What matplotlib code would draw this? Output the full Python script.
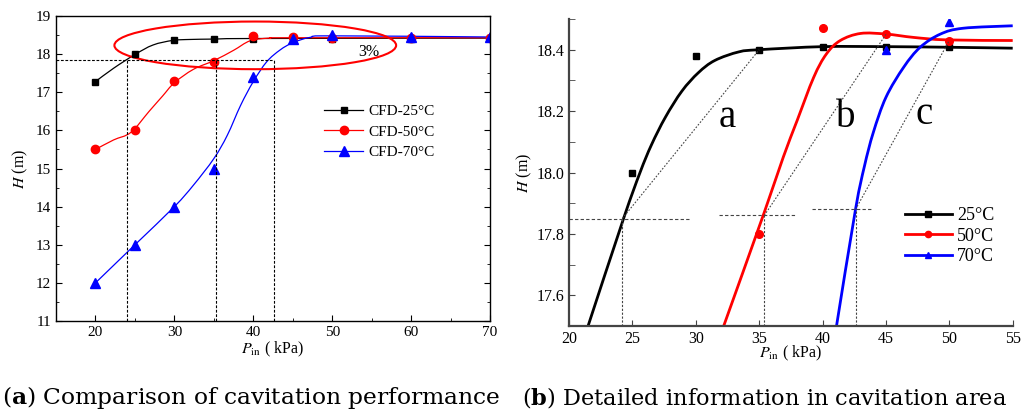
import numpy as np
import matplotlib
matplotlib.use('Agg')
import matplotlib.pyplot as plt
from matplotlib.lines import Line2D
from matplotlib.patches import Ellipse, PathPatch
from matplotlib.path import Path

# ===== DATI =====
# (a) punti CFD
p_a = [20, 25, 30, 35, 40, 45, 50, 60, 70]
h25_a = [17.28, 18.0, 18.38, 18.40, 18.41, 18.41, 18.41, 18.41, 18.42]
h50_a = [15.5, 16.0, 17.3, 17.8, 18.47, 18.45, 18.43, 18.43, 18.43]
h70_a = [12.0, 13.0, 14.0, 15.0, 17.4, 18.4, 18.49, 18.46, 18.44]

# (a) curve spline
c25_x = [20, 22.3, 25, 27.3, 29.8, 32, 35, 40, 70]
c25_y = [17.28, 17.63, 17.99, 18.24, 18.36, 18.385, 18.395, 18.41, 18.42]
c50_x = [20, 22.3, 24.5, 26.8, 28.5, 30, 32.4, 35, 37.5, 39.6, 42, 45, 70]
c50_y = [15.5, 15.75, 15.95, 16.5, 16.9, 17.25, 17.6, 17.83, 18.1, 18.35, 18.42, 18.43, 18.43]
c70_x = [20, 25, 30, 32.4, 35, 36.7, 38.4, 40, 41.7, 43.4, 45, 47.2, 50, 70]
c70_y = [12.0, 13.0, 14.0, 14.56, 15.26, 15.87, 16.66, 17.28, 17.8, 18.11, 18.3, 18.44, 18.48, 18.45]

# (b) punti
p25_b = [25, 30, 35, 40, 45, 50]
h25_b = [18.0, 18.38, 18.40, 18.41, 18.41, 18.41]
p50_b = [35, 40, 45, 50]
h50_b = [17.8, 18.47, 18.45, 18.43]
p70_b = [45, 50]
h70_b = [18.40, 18.49]

# (b) curve di fit
f25_x = [21.5, 24.3, 25.6, 26.5, 27.6, 28.9, 30.2, 31.5, 33.4, 35, 40, 45, 50, 55]
f25_y = [17.5, 17.85, 18.0, 18.09, 18.18, 18.265, 18.325, 18.365, 18.393, 18.40, 18.41, 18.41, 18.408, 18.405]
f50_x = [32.2, 35.4, 36.9, 38.0, 39.3, 40.3, 41.4, 43.0, 45.0, 47.2, 49.8, 55]
f50_y = [17.5, 17.87, 18.05, 18.17, 18.31, 18.386, 18.43, 18.453, 18.451, 18.44, 18.432, 18.43]
f70_x = [41.1, 42.6, 43.3, 44.0, 45.0, 46.4, 47.7, 49.3, 51.1, 55]
f70_y = [17.5, 17.88, 18.02, 18.13, 18.245, 18.343, 18.408, 18.451, 18.47, 18.478]

# punto critico (3%) per ogni temperatura
p_crit = [24.2, 35.4, 42.6]
h_crit = [17.85, 17.86, 17.88]
p_tan = [35, 45, 50]
h_tan = [18.40, 18.45, 18.43]
hline_b = [(20, 29.5), (31.8, 37.8), (39.2, 44.0)]

colors = ['black', 'red', 'blue']
markers = ['s', 'o', '^']
labels_a = ['CFD-25\u00b0C', 'CFD-50\u00b0C', 'CFD-70\u00b0C']
labels_b = ['25\u00b0C', '50\u00b0C', '70\u00b0C']


def smooth_path(xs, ys):
    """Path di Bezier (Catmull-Rom) che passa per i punti letti"""
    pts = np.column_stack([xs, ys]).astype(float)
    verts = [pts[0]]
    codes = [Path.MOVETO]
    n = len(pts)
    for i in range(n - 1):
        p0 = pts[i - 1] if i > 0 else pts[i]
        p1 = pts[i]
        p2 = pts[i + 1]
        p3 = pts[i + 2] if i + 2 < n else pts[i + 1]
        verts += [p1 + (p2 - p0) / 6, p2 - (p3 - p1) / 6, p2]
        codes += [Path.CURVE4] * 3
    return Path(verts, codes)


def draw_curve(ax, xs, ys, color, lw):
    ax.add_patch(PathPatch(smooth_path(xs, ys), fill=False, edgecolor=color, lw=lw,
                           capstyle='butt', joinstyle='round'))


plt.rcParams['font.family'] = ['Liberation Serif', 'DejaVu Serif']
plt.rcParams['mathtext.fontset'] = 'stix'

fig = plt.figure(figsize=(10.22, 4.18), dpi=100)
ax1 = fig.add_axes([0.0548, 0.232, 0.4247, 0.7297])
ax2 = fig.add_axes([0.5568, 0.2201, 0.4341, 0.7344])

# ===== (a) =====
curves_a = [(c25_x, c25_y), (c50_x, c50_y), (c70_x, c70_y)]
pts_a = [h25_a, h50_a, h70_a]
msz = [5, 6, 6.5]
for i in range(3):
    draw_curve(ax1, curves_a[i][0], curves_a[i][1], colors[i], 0.9)
    ax1.plot(p_a, pts_a[i], ls='none', marker=markers[i], color=colors[i], ms=msz[i])

# linee tratteggiate 3%
ax1.plot([15, 42.6], [17.85, 17.85], color='black', ls=(0, (2.5, 1.5)), lw=0.8)
for p in [24.0, 35.3, 42.6]:
    ax1.plot([p, p], [11, 17.85], color='black', ls=(0, (2.5, 1.5)), lw=0.8)

ax1.add_patch(Ellipse((40.25, 18.23), 35.7, 1.25, fill=False, edgecolor='red', lw=1.5))
ax1.text(54.7, 18.05, '3%', fontsize=11.5, ha='center', va='center')

ax1.set_xlim(15, 70)
ax1.set_ylim(11, 19)
ax1.set_xticks([20, 30, 40, 50, 60, 70])
ax1.set_xticks([25, 35, 45, 55, 65], minor=True)
ax1.set_yticks(range(11, 20))
ax1.set_yticks(np.arange(11.5, 19, 1), minor=True)
ax1.tick_params(which='both', direction='in', right=True, labelsize=11)
ax1.tick_params(which='major', length=4)
ax1.tick_params(which='minor', length=2.5)
for s in ax1.spines.values():
    s.set_linewidth(1.0)
ax1.set_xlabel(r'$P_{\rm in}$ ( kPa)', fontsize=11.5, labelpad=1)
ax1.set_ylabel(r'$H$ (m)', fontsize=11.5, labelpad=4)

handles_a = [Line2D([], [], color=colors[i], lw=0.9, marker=markers[i], ms=msz[i]) for i in range(3)]
ax1.legend(handles_a, labels_a, loc='upper left', bbox_to_anchor=(0.585, 0.755), frameon=False,
           fontsize=11, handlelength=2.6, labelspacing=0.45, handletextpad=0.3)

# ===== (b) =====
curves_b = [(f25_x, f25_y), (f50_x, f50_y), (f70_x, f70_y)]
pts_b = [(p25_b, h25_b), (p50_b, h50_b), (p70_b, h70_b)]
msz_b = [4.5, 5.5, 5.5]
for i in range(3):
    draw_curve(ax2, curves_b[i][0], curves_b[i][1], colors[i], 2.0)
    ax2.plot(pts_b[i][0], pts_b[i][1], ls='none', marker=markers[i], color=colors[i], ms=msz_b[i])

for i in range(3):
    ax2.plot([hline_b[i][0], hline_b[i][1]], [h_crit[i], h_crit[i]], color='#444444',
             ls=(0, (3, 2)), lw=0.8)
    ax2.plot([p_crit[i], p_crit[i]], [17.5, h_crit[i]], color='#444444', ls=(0, (2, 1.5)), lw=0.8)
    ax2.plot([p_crit[i], p_tan[i]], [h_crit[i], h_tan[i]], color='#444444', ls=(0, (1.5, 1.5)), lw=0.8)

for t, px, py in [('a', 32.5, 18.18), ('b', 41.8, 18.18), ('c', 48.0, 18.19)]:
    ax2.text(px, py, t, fontsize=28, ha='center', va='center')

ax2.set_xlim(20, 55)
ax2.set_ylim(17.5, 18.5)
ax2.set_xticks(range(20, 56, 5))
ax2.set_yticks([17.6, 17.8, 18.0, 18.2, 18.4])
ax2.set_yticks([17.5, 17.7, 17.9, 18.1, 18.3, 18.5], minor=True)
ax2.tick_params(which='both', direction='in', length=4, labelsize=11.5, color='#444444')
ax2.spines['top'].set_visible(False)
ax2.spines['right'].set_visible(False)
for s in ['left', 'bottom']:
    ax2.spines[s].set_linewidth(1.6)
    ax2.spines[s].set_color('#444444')
ax2.set_xlabel(r'$P_{\rm in}$ ( kPa)', fontsize=11.5, labelpad=-2)
ax2.set_ylabel(r'$H$ (m)', fontsize=11.5, labelpad=2)

handles_b = [Line2D([], [], color=colors[i], lw=2.0, marker=markers[i], ms=4.5) for i in range(3)]
ax2.legend(handles_b, labels_b, loc='upper left', bbox_to_anchor=(0.72, 0.44), frameon=False,
           fontsize=13, handlelength=2.6, labelspacing=0.2, handletextpad=0.3)

# didascalie
fig.text(0.002, 0.05, r'($\mathbf{a}$) Comparison of cavitation performance', fontsize=16.8,
         family='DejaVu Serif', math_fontfamily='dejavuserif', va='center')
fig.text(0.511, 0.05, r'($\mathbf{b}$) Detailed information in cavitation area', fontsize=16.2,
         family='DejaVu Serif', math_fontfamily='dejavuserif', va='center')

fig.savefig('out.png', dpi=100)
